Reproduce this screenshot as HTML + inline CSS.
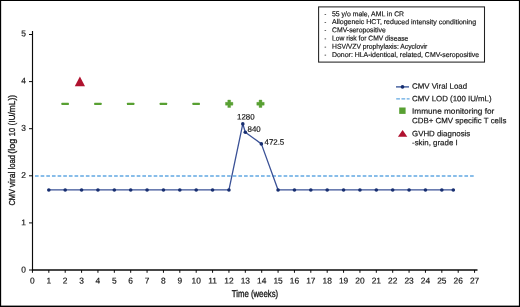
<!DOCTYPE html>
<html><head><meta charset="utf-8"><title>CMV viral load</title>
<style>
html,body{margin:0;padding:0;background:#fff;}
body{width:520px;height:307px;overflow:hidden;}
svg{display:block;font-family:"Liberation Sans",sans-serif;}
text{stroke:#161616;stroke-width:0.18px;}
.b text{stroke-width:0.32px;}
</style></head><body>
<svg width="520" height="307" viewBox="0 0 520 307">
<rect x="0" y="0" width="520" height="307" fill="#fff"/>

<rect x="0" y="0" width="520" height="1" fill="#000"/>
<rect x="0" y="0" width="1.15" height="307" fill="#000"/>
<rect x="518.9" y="0" width="1.1" height="307" fill="#000"/>
<rect x="0" y="305.6" width="520" height="1.4" fill="#000"/>
<g stroke="#0a0a0a" fill="none">
<path d="M32.5 31.00V270.7" stroke-width="1.15"/>
<path d="M31.95 270.0H477.5" stroke-width="1.5"/>
<path d="M32.45 270.0V272.8" stroke-width="1"/>
<path d="M48.83 270.0V272.8" stroke-width="1"/>
<path d="M65.20 270.0V272.8" stroke-width="1"/>
<path d="M81.58 270.0V272.8" stroke-width="1"/>
<path d="M97.95 270.0V272.8" stroke-width="1"/>
<path d="M114.33 270.0V272.8" stroke-width="1"/>
<path d="M130.70 270.0V272.8" stroke-width="1"/>
<path d="M147.07 270.0V272.8" stroke-width="1"/>
<path d="M163.45 270.0V272.8" stroke-width="1"/>
<path d="M179.82 270.0V272.8" stroke-width="1"/>
<path d="M196.20 270.0V272.8" stroke-width="1"/>
<path d="M212.57 270.0V272.8" stroke-width="1"/>
<path d="M228.95 270.0V272.8" stroke-width="1"/>
<path d="M245.32 270.0V272.8" stroke-width="1"/>
<path d="M261.70 270.0V272.8" stroke-width="1"/>
<path d="M278.07 270.0V272.8" stroke-width="1"/>
<path d="M294.45 270.0V272.8" stroke-width="1"/>
<path d="M310.82 270.0V272.8" stroke-width="1"/>
<path d="M327.20 270.0V272.8" stroke-width="1"/>
<path d="M343.57 270.0V272.8" stroke-width="1"/>
<path d="M359.95 270.0V272.8" stroke-width="1"/>
<path d="M376.32 270.0V272.8" stroke-width="1"/>
<path d="M392.70 270.0V272.8" stroke-width="1"/>
<path d="M409.07 270.0V272.8" stroke-width="1"/>
<path d="M425.45 270.0V272.8" stroke-width="1"/>
<path d="M441.82 270.0V272.8" stroke-width="1"/>
<path d="M458.20 270.0V272.8" stroke-width="1"/>
<path d="M474.57 270.0V272.8" stroke-width="1"/>
<path d="M29.00 270.00H32.5" stroke-width="1"/>
<path d="M29.00 222.90H32.5" stroke-width="1"/>
<path d="M29.00 175.80H32.5" stroke-width="1"/>
<path d="M29.00 128.70H32.5" stroke-width="1"/>
<path d="M29.00 81.60H32.5" stroke-width="1"/>
<path d="M29.00 34.50H32.5" stroke-width="1"/>
</g>
<g font-size="8.4" fill="#161616">
<text x="32.45" y="283.60" transform="rotate(0.03 32.45 283.60)" text-anchor="middle">0</text>
<text x="48.83" y="283.60" transform="rotate(0.03 48.83 283.60)" text-anchor="middle">1</text>
<text x="65.20" y="283.60" transform="rotate(0.03 65.20 283.60)" text-anchor="middle">2</text>
<text x="81.58" y="283.60" transform="rotate(0.03 81.58 283.60)" text-anchor="middle">3</text>
<text x="97.95" y="283.60" transform="rotate(0.03 97.95 283.60)" text-anchor="middle">4</text>
<text x="114.33" y="283.60" transform="rotate(0.03 114.33 283.60)" text-anchor="middle">5</text>
<text x="130.70" y="283.60" transform="rotate(0.03 130.70 283.60)" text-anchor="middle">6</text>
<text x="147.07" y="283.60" transform="rotate(0.03 147.07 283.60)" text-anchor="middle">7</text>
<text x="163.45" y="283.60" transform="rotate(0.03 163.45 283.60)" text-anchor="middle">8</text>
<text x="179.82" y="283.60" transform="rotate(0.03 179.82 283.60)" text-anchor="middle">9</text>
<text x="196.20" y="283.60" transform="rotate(0.03 196.20 283.60)" text-anchor="middle">10</text>
<text x="212.57" y="283.60" transform="rotate(0.03 212.57 283.60)" text-anchor="middle">11</text>
<text x="228.95" y="283.60" transform="rotate(0.03 228.95 283.60)" text-anchor="middle">12</text>
<text x="245.32" y="283.60" transform="rotate(0.03 245.32 283.60)" text-anchor="middle">13</text>
<text x="261.70" y="283.60" transform="rotate(0.03 261.70 283.60)" text-anchor="middle">14</text>
<text x="278.07" y="283.60" transform="rotate(0.03 278.07 283.60)" text-anchor="middle">15</text>
<text x="294.45" y="283.60" transform="rotate(0.03 294.45 283.60)" text-anchor="middle">16</text>
<text x="310.82" y="283.60" transform="rotate(0.03 310.82 283.60)" text-anchor="middle">17</text>
<text x="327.20" y="283.60" transform="rotate(0.03 327.20 283.60)" text-anchor="middle">18</text>
<text x="343.57" y="283.60" transform="rotate(0.03 343.57 283.60)" text-anchor="middle">19</text>
<text x="359.95" y="283.60" transform="rotate(0.03 359.95 283.60)" text-anchor="middle">20</text>
<text x="376.32" y="283.60" transform="rotate(0.03 376.32 283.60)" text-anchor="middle">21</text>
<text x="392.70" y="283.60" transform="rotate(0.03 392.70 283.60)" text-anchor="middle">22</text>
<text x="409.07" y="283.60" transform="rotate(0.03 409.07 283.60)" text-anchor="middle">23</text>
<text x="425.45" y="283.60" transform="rotate(0.03 425.45 283.60)" text-anchor="middle">24</text>
<text x="441.82" y="283.60" transform="rotate(0.03 441.82 283.60)" text-anchor="middle">25</text>
<text x="458.20" y="283.60" transform="rotate(0.03 458.20 283.60)" text-anchor="middle">26</text>
<text x="474.57" y="283.60" transform="rotate(0.03 474.57 283.60)" text-anchor="middle">27</text>
<text x="25.80" y="272.60" transform="rotate(0.03 25.80 272.60)" text-anchor="end">0</text>
<text x="25.80" y="225.33" transform="rotate(0.03 25.80 225.33)" text-anchor="end">1</text>
<text x="25.80" y="178.06" transform="rotate(0.03 25.80 178.06)" text-anchor="end">2</text>
<text x="25.80" y="130.79" transform="rotate(0.03 25.80 130.79)" text-anchor="end">3</text>
<text x="25.80" y="83.52" transform="rotate(0.03 25.80 83.52)" text-anchor="end">4</text>
<text x="25.80" y="36.25" transform="rotate(0.03 25.80 36.25)" text-anchor="end">5</text>
</g>
<g fill="#161616" class="b">
<text x="231.70" y="297.30" transform="rotate(0.03 231.70 297.30)" font-size="9.8" textLength="46.5" lengthAdjust="spacingAndGlyphs">Time (weeks)</text>
</g>
<g font-size="9.8" fill="#161616" class="b">
<text transform="translate(14.6 205.5) rotate(-90)" textLength="16.5" lengthAdjust="spacingAndGlyphs">CMV</text>
<text transform="translate(14.6 187.3) rotate(-90)" textLength="15.7" lengthAdjust="spacingAndGlyphs">viral</text>
<text transform="translate(14.6 169.4) rotate(-90)" textLength="14.4" lengthAdjust="spacingAndGlyphs">load</text>
<text transform="translate(14.6 153.8) rotate(-90)" textLength="15.2" lengthAdjust="spacingAndGlyphs">(log</text>
<text transform="translate(14.6 136.2) rotate(-90)" textLength="8.3" lengthAdjust="spacingAndGlyphs">10</text>
<text transform="translate(14.6 125.6) rotate(-90)" textLength="30.6" lengthAdjust="spacingAndGlyphs">(IU/mL))</text>
</g>
<path d="M35 176H474" stroke="#62a8e2" stroke-width="1.4" stroke-dasharray="3.65 2.0" fill="none"/>
<path d="M48.83 189.93 L65.20 189.93 L81.58 189.93 L97.95 189.93 L114.33 189.93 L130.70 189.93 L147.07 189.93 L163.45 189.93 L179.82 189.93 L196.20 189.93 L212.57 189.93 L228.95 189.93 L242.80 123.90 L245.30 132.20 L261.35 143.90 L278.07 189.93 L294.45 189.93 L310.82 189.93 L327.20 189.93 L343.57 189.93 L359.95 189.93 L376.32 189.93 L392.70 189.93 L409.07 189.93 L425.45 189.93 L441.82 189.93 L453.29 189.93" stroke="#3a5196" stroke-width="1.3" fill="none" stroke-linejoin="round"/>
<circle cx="48.83" cy="189.93" r="1.8" fill="#172e70"/>
<circle cx="65.20" cy="189.93" r="1.8" fill="#172e70"/>
<circle cx="81.58" cy="189.93" r="1.8" fill="#172e70"/>
<circle cx="97.95" cy="189.93" r="1.8" fill="#172e70"/>
<circle cx="114.33" cy="189.93" r="1.8" fill="#172e70"/>
<circle cx="130.70" cy="189.93" r="1.8" fill="#172e70"/>
<circle cx="147.07" cy="189.93" r="1.8" fill="#172e70"/>
<circle cx="163.45" cy="189.93" r="1.8" fill="#172e70"/>
<circle cx="179.82" cy="189.93" r="1.8" fill="#172e70"/>
<circle cx="196.20" cy="189.93" r="1.8" fill="#172e70"/>
<circle cx="212.57" cy="189.93" r="1.8" fill="#172e70"/>
<circle cx="228.95" cy="189.93" r="1.8" fill="#172e70"/>
<circle cx="242.80" cy="123.90" r="1.8" fill="#172e70"/>
<circle cx="245.30" cy="132.20" r="1.8" fill="#172e70"/>
<circle cx="261.35" cy="143.90" r="1.8" fill="#172e70"/>
<circle cx="278.07" cy="189.93" r="1.8" fill="#172e70"/>
<circle cx="294.45" cy="189.93" r="1.8" fill="#172e70"/>
<circle cx="310.82" cy="189.93" r="1.8" fill="#172e70"/>
<circle cx="327.20" cy="189.93" r="1.8" fill="#172e70"/>
<circle cx="343.57" cy="189.93" r="1.8" fill="#172e70"/>
<circle cx="359.95" cy="189.93" r="1.8" fill="#172e70"/>
<circle cx="376.32" cy="189.93" r="1.8" fill="#172e70"/>
<circle cx="392.70" cy="189.93" r="1.8" fill="#172e70"/>
<circle cx="409.07" cy="189.93" r="1.8" fill="#172e70"/>
<circle cx="425.45" cy="189.93" r="1.8" fill="#172e70"/>
<circle cx="441.82" cy="189.93" r="1.8" fill="#172e70"/>
<circle cx="453.29" cy="189.93" r="1.8" fill="#172e70"/>
<g font-size="7.9" fill="#161616">
<text x="237.00" y="119.40" transform="rotate(0.03 237.00 119.40)">1280</text>
<text x="247.50" y="131.75" transform="rotate(0.03 247.50 131.75)">840</text>
<text x="264.50" y="144.65" transform="rotate(0.03 264.50 144.65)">472.5</text>
</g>
<rect x="61.45" y="102.7" width="7.4" height="2.4" rx="0.5" fill="#58a032"/>
<rect x="94.20" y="102.7" width="7.4" height="2.4" rx="0.5" fill="#58a032"/>
<rect x="126.95" y="102.7" width="7.4" height="2.4" rx="0.5" fill="#58a032"/>
<rect x="159.70" y="102.7" width="7.4" height="2.4" rx="0.5" fill="#58a032"/>
<rect x="192.45" y="102.7" width="7.4" height="2.4" rx="0.5" fill="#58a032"/>
<path d="M225.5 102.35H227.79999999999998V100.05H230.6V102.35H232.89999999999998V105.15H230.6V107.45H227.79999999999998V105.15H225.5z" fill="#58a032" stroke="#58a032" stroke-width="0.4" stroke-linejoin="round"/>
<path d="M256.8 102.35H259.1V100.05H261.9V102.35H264.2V105.15H261.9V107.45H259.1V105.15H256.8z" fill="#58a032" stroke="#58a032" stroke-width="0.4" stroke-linejoin="round"/>
<path d="M74.80 86.3L79.90 76.6L85.00 86.3z" fill="#b0122f"/>
<rect x="318.6" y="6.9" width="165.9" height="55.2" fill="#fff" stroke="#222" stroke-width="1.05"/>
<g font-size="7" fill="#161616">
<text x="324.50" y="15.95" transform="rotate(0.03 324.50 15.95)" font-size="5.2">-</text><text x="332.00" y="16.25" transform="rotate(0.03 332.00 16.25)" textLength="72.1" lengthAdjust="spacingAndGlyphs">55 y/o male, AML in CR</text>
<text x="324.50" y="23.80" transform="rotate(0.03 324.50 23.80)" font-size="5.2">-</text><text x="332.00" y="24.10" transform="rotate(0.03 332.00 24.10)" textLength="144.1" lengthAdjust="spacingAndGlyphs">Allogeneic HCT, reduced intensity conditioning</text>
<text x="324.50" y="31.95" transform="rotate(0.03 324.50 31.95)" font-size="5.2">-</text><text x="332.00" y="32.25" transform="rotate(0.03 332.00 32.25)" textLength="53.7" lengthAdjust="spacingAndGlyphs">CMV-seropositive</text>
<text x="324.50" y="40.30" transform="rotate(0.03 324.50 40.30)" font-size="5.2">-</text><text x="332.00" y="40.60" transform="rotate(0.03 332.00 40.60)" textLength="76.3" lengthAdjust="spacingAndGlyphs">Low risk for CMV disease</text>
<text x="324.50" y="48.45" transform="rotate(0.03 324.50 48.45)" font-size="5.2">-</text><text x="332.00" y="48.75" transform="rotate(0.03 332.00 48.75)" textLength="95.3" lengthAdjust="spacingAndGlyphs">HSV/VZV prophylaxis: Acyclovir</text>
<text x="324.50" y="56.60" transform="rotate(0.03 324.50 56.60)" font-size="5.2">-</text><text x="332.00" y="56.90" transform="rotate(0.03 332.00 56.90)" textLength="147.2" lengthAdjust="spacingAndGlyphs">Donor: HLA-identical, related, CMV-seropositive</text>
</g>
<path d="M396 86.9H409" stroke="#1f3f8a" stroke-width="1.2"/><circle cx="402.5" cy="86.9" r="1.8" fill="#172e70"/>
<path d="M396.2 98.9H409.6" stroke="#62a8e2" stroke-width="1.3" stroke-dasharray="3.75 1.5"/>
<rect x="399.2" y="107.5" width="6.4" height="6.4" fill="#58a032"/>
<path d="M397.9 136.8L402.6 129.9L407.3 136.8z" fill="#b0122f"/>
<g font-size="7.8" fill="#161616">
<text x="412.00" y="88.75" transform="rotate(0.03 412.00 88.75)" textLength="55.1" lengthAdjust="spacingAndGlyphs">CMV Viral Load</text>
<text x="412.00" y="101.25" transform="rotate(0.03 412.00 101.25)" textLength="79.6" lengthAdjust="spacingAndGlyphs">CMV LOD (100 IU/mL)</text>
<text x="412.00" y="113.75" transform="rotate(0.03 412.00 113.75)" textLength="82.3" lengthAdjust="spacingAndGlyphs">Immune monitoring for</text>
<text x="412.00" y="123.25" transform="rotate(0.03 412.00 123.25)" textLength="94.5" lengthAdjust="spacingAndGlyphs">CDB+ CMV specific T cells</text>
<text x="412.00" y="136.25" transform="rotate(0.03 412.00 136.25)" textLength="58.3" lengthAdjust="spacingAndGlyphs">GVHD diagnosis</text>
<text x="412.00" y="145.30" transform="rotate(0.03 412.00 145.30)" textLength="45.7" lengthAdjust="spacingAndGlyphs">-skin, grade I</text>
</g>
</svg></body></html>
